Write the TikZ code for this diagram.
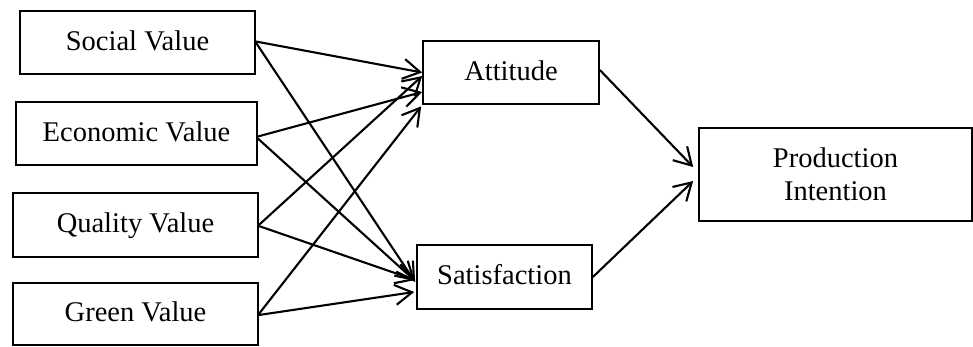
\documentclass[tikz,border=0pt]{standalone}
\usepackage{fontspec}
\setmainfont{Liberation Serif}
\usetikzlibrary{arrows.meta}
\begin{document}
\begin{tikzpicture}[x=1pt,y=-1pt,
  box/.style={draw, line width=1.7pt, inner sep=0pt, font=\fontsize{28.5}{33}\selectfont, text height=21pt, text depth=6pt},
  bigbox/.style={draw, line width=1.7pt, inner sep=0pt, font=\fontsize{28.5}{33}\selectfont, align=center},
  conn/.style={line width=2.1pt, -{Straight Barb[length=17pt, width=20pt, line width=2.1pt]}}]
\useasboundingbox (0,0) rectangle (973,346);
\node[box, minimum width=235pt, minimum height=63pt] (soc) at (137.5,42.5) {Social Value};
\node[box, minimum width=241pt, minimum height=63pt] (eco) at (136.5,133.5) {Economic Value};
\node[box, minimum width=245pt, minimum height=64pt] (qua) at (135.5,225) {Quality Value};
\node[box, minimum width=245pt, minimum height=62pt] (gre) at (135.5,314) {Green Value};
\node[box, minimum width=176pt, minimum height=63pt] (att) at (511,72.5) {Attitude};
\node[box, minimum width=175pt, minimum height=64pt] (sat) at (504.5,277) {Satisfaction};
\node[bigbox, minimum width=273pt, minimum height=93pt] (pro) at (835.5,174.5) {Production\\Intention};
% to Attitude
\draw[conn] ([yshift=1pt]soc.east) -- (att.west);
\draw[conn] ([yshift=-3pt]eco.east) -- ([yshift=-19.5pt]att.west);
\draw[conn] (qua.east) -- ([yshift=-3.5pt]att.west);
\draw[conn] (gre.east) -- ([xshift=-1pt,yshift=-1.5pt]att.south west);
% to Satisfaction
\draw[conn] (soc.east) -- ([xshift=-1pt,yshift=-5pt]sat.west);
\draw[conn] ([yshift=-5pt]eco.east) -- ([xshift=-1pt,yshift=-4pt]sat.west);
\draw[conn] ([yshift=-1pt]qua.east) -- ([xshift=-1pt,yshift=-3pt]sat.west);
\draw[conn] ([yshift=-1pt]gre.east) -- ([xshift=-2pt,yshift=-15pt]sat.west);
% to Production Intention
\draw[conn] ([yshift=2.5pt]att.east) -- ([xshift=-5pt,yshift=7.5pt]pro.west);
\draw[conn] (sat.east) -- ([xshift=-5pt,yshift=-6.5pt]pro.west);
\end{tikzpicture}
\end{document}
